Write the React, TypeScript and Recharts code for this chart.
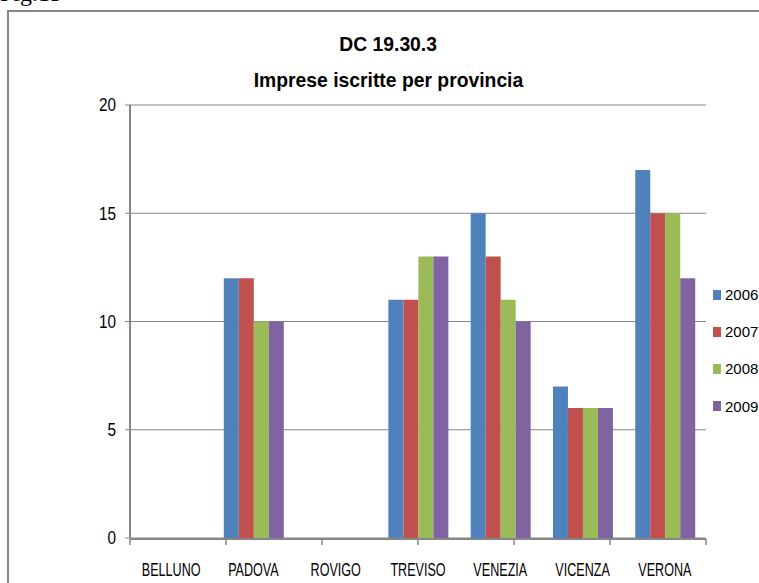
import { BarChart, Bar, XAxis, YAxis, CartesianGrid } from "recharts";

const PROVINCES = ["BELLUNO", "PADOVA", "ROVIGO", "TREVISO", "VENEZIA", "VICENZA", "VERONA"];
const Y2006 = [0, 12, 0, 11, 15, 7, 17];
const Y2007 = [0, 12, 0, 11, 13, 6, 15];
const Y2008 = [0, 10, 0, 13, 11, 6, 15];
const Y2009 = [0, 10, 0, 13, 10, 6, 12];
const Y_TICKS = [0, 5, 10, 15, 20];
const BOUNDARY_TICKS = [0, 1, 2, 3, 4, 5, 6, 7];

const SERIES = [
  { key: "2006", color: "#4F81BD" },
  { key: "2007", color: "#C0504D" },
  { key: "2008", color: "#9BBB59" },
  { key: "2009", color: "#8064A2" },
];

const data = PROVINCES.map((p, i) => ({
  province: p,
  "2006": Y2006[i],
  "2007": Y2007[i],
  "2008": Y2008[i],
  "2009": Y2009[i],
}));

const SANS = "'Liberation Sans', Arial, sans-serif";
const GRAY = "#868686";

// condensed look of the original (Calibri, squeezed) via scaleX
function XTick({ x, y, payload }: any) {
  return (
    <text
      transform={`translate(${x},${y + 38}) scale(0.7,1)`}
      textAnchor="middle"
      fontFamily={SANS}
      fontSize={18}
      fill="#000"
    >
      {payload.value}
    </text>
  );
}

function YTick({ x, y, payload }: any) {
  return (
    <text
      transform={`translate(${x},${y}) scale(0.85,1)`}
      textAnchor="end"
      dy="0.36em"
      fontFamily={SANS}
      fontSize={18}
      fill="#000"
    >
      {payload.value}
    </text>
  );
}

const titleLine = (top: number, text: string) => (
  <div
    style={{
      position: "absolute",
      left: 188,
      width: 400,
      top,
      textAlign: "center",
      fontFamily: SANS,
      fontWeight: "bold",
      fontSize: 21,
      lineHeight: "21px",
      color: "#000",
      whiteSpace: "nowrap",
    }}
  >
    <span style={{ display: "inline-block", transform: "scaleX(0.92)" }}>{text}</span>
  </div>
);

export default function App() {
  return (
    <div
      style={{
        position: "fixed",
        left: 0,
        top: 0,
        width: 759,
        height: 583,
        overflow: "hidden",
        background: "#fff",
      }}
    >
      <div
        style={{
          position: "absolute",
          left: 0,
          top: -19,
          fontFamily: "'Liberation Serif', 'Times New Roman', serif",
          fontSize: 24,
          lineHeight: "24px",
          color: "#000",
        }}
      >
        Fig.13
      </div>
      <div
        style={{
          position: "absolute",
          left: 7,
          top: 10,
          width: 800,
          height: 700,
          border: "2px solid #888",
        }}
      />
      {titleLine(33, "DC 19.30.3")}
      {titleLine(69, "Imprese iscritte per provincia")}

      <div style={{ position: "absolute", left: 0, top: 0 }}>
        <BarChart
          width={759}
          height={583}
          data={data}
          margin={{ top: 105, right: 53, bottom: 43, left: 129 }}
          barCategoryGap="14%"
          barGap={0}
        >
          <CartesianGrid vertical={false} horizontal stroke={GRAY} strokeWidth={1} />
          <XAxis
            xAxisId="edges"
            type="number"
            domain={[0, 7]}
            ticks={BOUNDARY_TICKS}
            allowDataOverflow
            height={1}
            axisLine={{ stroke: GRAY, strokeWidth: 2 }}
            tickLine={{ stroke: GRAY, strokeWidth: 1.5 }}
            tickSize={6}
            tick={() => <g />}
          />
          <XAxis
            xAxisId="cat"
            dataKey="province"
            height={1}
            axisLine={false}
            tickLine={false}
            tickSize={0}
            tickMargin={0}
            interval={0}
            tick={XTick}
          />
          <YAxis
            width={1}
            domain={[0, 20]}
            ticks={Y_TICKS}
            axisLine={{ stroke: GRAY, strokeWidth: 2 }}
            tickLine={{ stroke: GRAY }}
            tickSize={5}
            tickMargin={9}
            tick={YTick}
          />
          {SERIES.map((s) => (
            <Bar
              key={s.key}
              xAxisId="cat"
              dataKey={s.key}
              fill={s.color}
              isAnimationActive={false}
            />
          ))}
        </BarChart>
      </div>

      <div style={{ position: "absolute", left: 713, top: 276 }}>
        {SERIES.map((s) => (
          <div
            key={s.key}
            style={{ display: "flex", alignItems: "center", height: 37.2 }}
          >
            <div style={{ width: 8, height: 10, background: s.color, marginRight: 4 }} />
            <span style={{ fontFamily: SANS, fontSize: 15, color: "#000" }}>{s.key}</span>
          </div>
        ))}
      </div>
    </div>
  );
}
